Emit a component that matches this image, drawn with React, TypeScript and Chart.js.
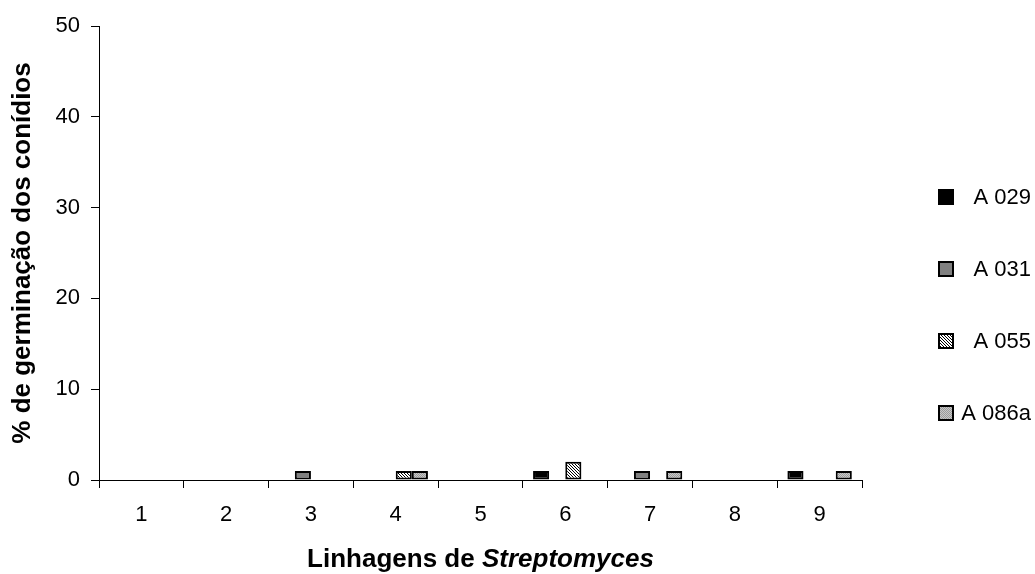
import React, { useEffect, useRef } from "react";
import { Chart, registerables } from "chart.js";

Chart.register(...registerables);

const categories = ["1", "2", "3", "4", "5", "6", "7", "8", "9"];
const seriesNames = ["A 029", "A 031", "A 055", "A 086a"];
const a029 = [0, 0, 0, 0, 0, 1, 0, 0, 1];
const a031 = [0, 0, 1, 0, 0, 0, 1, 0, 0];
const a055 = [0, 0, 0, 1, 0, 2, 0, 0, 0];
const a086a = [0, 0, 0, 1, 0, 0, 1, 0, 1];
const yMin = 0;
const yMax = 50;
const yStep = 10;
const xTitleMain = "Linhagens de ";
const xTitleItalic = "Streptomyces";
const yTitle = "% de germinação dos conídios";

const FONT = "'Liberation Sans', Arial, Helvetica, sans-serif";

function makeHatch(): CanvasPattern | string {
  const c = document.createElement("canvas");
  c.width = 3;
  c.height = 3;
  const g = c.getContext("2d");
  if (!g) return "#888";
  g.fillStyle = "#ffffff";
  g.fillRect(0, 0, 3, 3);
  g.fillStyle = "#000000";
  for (let i = 0; i < 3; i++) {
    g.fillRect(i, i, 1, 1);
  }
  return g.createPattern(c, "repeat") || "#888";
}

function makeDots(): CanvasPattern | string {
  const c = document.createElement("canvas");
  c.width = 2;
  c.height = 2;
  const g = c.getContext("2d");
  if (!g) return "#bbb";
  g.fillStyle = "#c8c8c8";
  g.fillRect(0, 0, 2, 2);
  g.fillStyle = "#9a9a9a";
  g.fillRect(0, 0, 1, 1);
  g.fillRect(1, 1, 1, 1);
  return g.createPattern(c, "repeat") || "#bbb";
}

const legendPlugin = {
  id: "customLegend",
  afterDraw(chart: any) {
    const ctx = chart.ctx as CanvasRenderingContext2D;
    const area = chart.chartArea;
    const boxX = area.right + 77;
    const maxRight = chart.width - 4;
    ctx.save();
    ctx.font = `22px ${FONT}`;
    chart.data.datasets.forEach((ds: any, i: number) => {
      const cy = 197 + 72 * i;
      ctx.fillStyle = ds.backgroundColor;
      ctx.fillRect(boxX, cy - 7, 14, 14);
      ctx.strokeStyle = "#000";
      ctx.lineWidth = 2;
      ctx.strokeRect(boxX, cy - 7, 14, 14);
      const w = ctx.measureText(ds.label).width;
      const tx = Math.min(boxX + 36, maxRight - w);
      ctx.fillStyle = "#000";
      ctx.textBaseline = "middle";
      ctx.textAlign = "left";
      ctx.fillText(ds.label, tx, cy + 1);
    });
    ctx.restore();
  },
};

const xTitlePlugin = {
  id: "xTitleMixed",
  afterDraw(chart: any) {
    const ctx = chart.ctx as CanvasRenderingContext2D;
    const area = chart.chartArea;
    ctx.save();
    const f1 = `bold 26px ${FONT}`;
    const f2 = `italic bold 26px ${FONT}`;
    ctx.font = f1;
    const w1 = ctx.measureText(xTitleMain).width;
    ctx.font = f2;
    const w2 = ctx.measureText(xTitleItalic).width;
    const cx = (area.left + area.right) / 2;
    const x0 = cx - (w1 + w2) / 2;
    const y = 567;
    ctx.fillStyle = "#000";
    ctx.textBaseline = "alphabetic";
    ctx.textAlign = "left";
    ctx.font = f1;
    ctx.fillText(xTitleMain, x0, y);
    ctx.font = f2;
    ctx.fillText(xTitleItalic, x0 + w1, y);
    ctx.restore();
  },
};

export default function App() {
  const ref = useRef<HTMLCanvasElement | null>(null);

  useEffect(() => {
    const canvas = ref.current;
    if (!canvas) return;
    const hatch = makeHatch();
    const dots = makeDots();
    const series = [a029, a031, a055, a086a];
    const fills: any[] = ["#000000", "#808080", hatch, dots];
    const chart = new Chart(canvas, {
      type: "bar",
      data: {
        labels: categories,
        datasets: series.map((d, i) => ({
          label: seriesNames[i],
          data: d,
          backgroundColor: fills[i],
          borderColor: "#000000",
          borderWidth: 2,
          borderSkipped: false,
          categoryPercentage: 0.76,
          barPercentage: 1,
        })),
      },
      options: {
        responsive: false,
        animation: false,
        layout: { padding: { top: 26, right: 173, bottom: 0, left: 0 } },
        plugins: {
          legend: { display: false },
          tooltip: { enabled: false },
          title: { display: false },
        },
        scales: {
          x: {
            type: "category",
            offset: true,
            afterFit: (s: any) => {
              s.height = 94;
            },
            grid: {
              display: true,
              drawOnChartArea: false,
              offset: true,
              tickLength: 8,
              color: "#000",
              lineWidth: 1,
            },
            border: { display: true, color: "#000", width: 1 },
            ticks: {
              color: "#000",
              font: { family: FONT, size: 22 },
              padding: 14,
              maxRotation: 0,
            },
          },
          y: {
            min: yMin,
            max: yMax,
            afterFit: (s: any) => {
              s.width = 99;
            },
            grid: {
              display: true,
              drawOnChartArea: false,
              tickLength: 8,
              color: "#000",
              lineWidth: 1,
            },
            border: { display: true, color: "#000", width: 1 },
            ticks: {
              stepSize: yStep,
              color: "#000",
              font: { family: FONT, size: 22 },
              padding: 11,
            },
            title: {
              display: true,
              text: yTitle,
              color: "#000",
              font: { family: FONT, size: 26, weight: "bold" },
              padding: { top: 7, bottom: 0 },
            },
          },
        },
      },
      plugins: [legendPlugin, xTitlePlugin],
    });
    return () => chart.destroy();
  }, []);

  return (
    <div style={{ position: "fixed", left: 0, top: 0, width: 1035, height: 574, background: "#fff" }}>
      <canvas ref={ref} width={1035} height={574} style={{ display: "block" }} />
    </div>
  );
}
